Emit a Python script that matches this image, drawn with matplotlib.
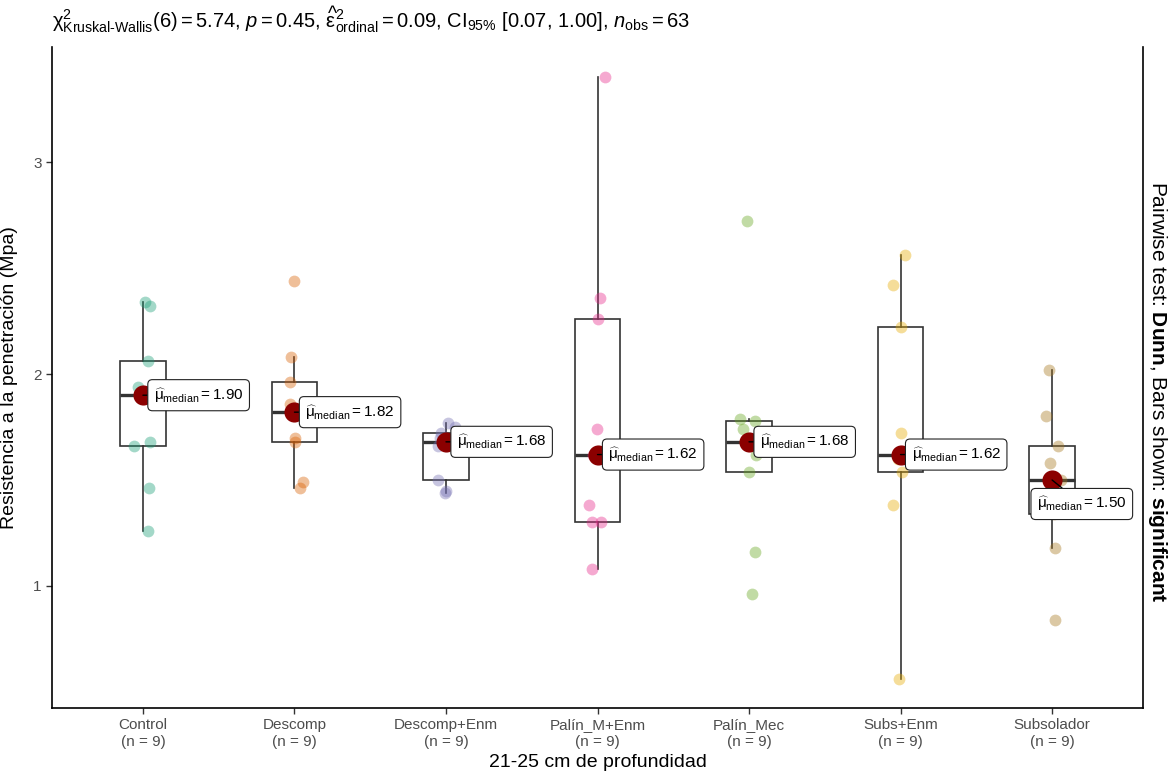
import numpy as np
import matplotlib
matplotlib.use("Agg")
import matplotlib.pyplot as plt

# fonts: ggplot look (Helvetica -> Liberation Sans)
plt.rcParams["font.family"] = ["Liberation Sans", "DejaVu Sans"]
plt.rcParams["mathtext.fontset"] = "custom"
plt.rcParams["mathtext.rm"] = "Liberation Sans"
plt.rcParams["mathtext.it"] = "Liberation Sans:italic"
plt.rcParams["mathtext.bf"] = "Liberation Sans:bold"
plt.rcParams["mathtext.sf"] = "Liberation Sans"

# data (Mpa)
groups = ["Control", "Descomp", "Descomp+Enm", "Palín_M+Enm", "Palín_Mec", "Subs+Enm", "Subsolador"]
control = [2.34, 2.32, 2.06, 1.94, 1.90, 1.68, 1.66, 1.46, 1.26]
descomp = [2.44, 2.08, 1.96, 1.86, 1.82, 1.70, 1.68, 1.49, 1.46]
descomp_enm = [1.77, 1.75, 1.72, 1.70, 1.68, 1.66, 1.50, 1.45, 1.44]
palin_m_enm = [3.40, 2.36, 2.26, 1.74, 1.62, 1.38, 1.30, 1.30, 1.08]
palin_mec = [2.72, 1.79, 1.78, 1.74, 1.68, 1.62, 1.54, 1.16, 0.96]
subs_enm = [2.56, 2.42, 2.22, 1.72, 1.62, 1.60, 1.54, 1.38, 0.56]
subsolador = [2.02, 1.80, 1.66, 1.58, 1.50, 1.38, 1.34, 1.18, 0.84]
values = [control, descomp, descomp_enm, palin_m_enm, palin_mec, subs_enm, subsolador]

title_str = (r"$\mathrm{\chi}^2_{\mathrm{Kruskal‐Wallis}}(6) = 5.74$, $p = 0.45$, "
             r"$\widehat{\mathrm{\varepsilon}}^2_{\mathrm{ordinal}} = 0.09$, "
             r"$\mathrm{CI}_{95\%}$ [0.07, 1.00], $n_{\mathrm{obs}} = 63$")
xlabel = "21-25 cm de profundidad"
ylabel = "Resistencia a la penetración (Mpa)"
caption = r"Pairwise test: $\mathbf{Dunn}$, Bars shown: $\mathbf{significant}$"

palette = ["#1B9E77", "#D95F02", "#7570B3", "#E7298A", "#66A61E", "#E6AB02", "#A6761D"]

W, H = 1173, 775
fig = plt.figure(figsize=(W / 100, H / 100), dpi=100)
ax = fig.add_axes([52 / W, (H - 708) / H, (1143 - 52) / W, (708 - 47) / H])

pos = np.arange(1, len(groups) + 1)

# boxplots (no outlier markers, like ggstatsplot)
ax.boxplot(values, positions=pos, widths=0.3, showfliers=False, whis=1.5,
           showcaps=False, patch_artist=True,
           boxprops=dict(facecolor="none", edgecolor="#333333", linewidth=1.2),
           whiskerprops=dict(color="#333333", linewidth=1.2),
           medianprops=dict(color="#333333", linewidth=2.4), zorder=2)

# jittered raw points
rng = np.random.default_rng(7)
for i, vals in enumerate(values):
    jit = rng.uniform(-0.06, 0.06, len(vals))
    ax.scatter(pos[i] + jit, vals, s=72, color=palette[i], alpha=0.4,
               linewidths=0, zorder=3)

# median dots + labels
for i, vals in enumerate(values):
    med = np.median(vals)
    ax.scatter([pos[i]], [med], s=210, color="#8B0000", linewidths=0, zorder=4)
    if groups[i] == "Subsolador":
        off = (-15, -24)
    else:
        off = (11, 0)
    ax.annotate(r"$\widehat{\mathrm{\mu}}_{\mathrm{median}} = %.2f$" % med,
                xy=(pos[i], med), xytext=off, textcoords="offset pixels",
                ha="left", va="center", fontsize=11, zorder=6,
                bbox=dict(boxstyle="round,pad=0.4,rounding_size=0.3",
                          fc="white", ec="#222222", lw=0.8),
                arrowprops=dict(arrowstyle="-", color="black", lw=1,
                                shrinkA=0, shrinkB=0))

ax.set_xlim(0.4, 7.6)
ax.set_ylim(0.4245, 3.5425)
ax.set_yticks([1, 2, 3])
ax.set_xticks(pos)
ax.set_xticklabels([g + "\n(n = %d)" % len(v) for g, v in zip(groups, values)])
ax.tick_params(axis="both", colors="#333333", labelcolor="#4D4D4D",
               labelsize=11, length=4, width=1)
for s in ["left", "bottom", "right"]:
    ax.spines[s].set_linewidth(1.2)
    ax.spines[s].set_color("black")
ax.spines["top"].set_visible(False)

ax.set_xlabel(xlabel, fontsize=14, labelpad=4)
ax.set_ylabel(ylabel, fontsize=14)
ax.yaxis.set_label_coords((18 - 52) / (1143 - 52), 0.5)

fig.text(52 / W, 1 - 20 / H, title_str, ha="left", va="center", fontsize=14.5)
fig.text(1157 / W, (H - 392) / H, caption, rotation=270, ha="center", va="center",
         fontsize=15)

fig.savefig("out.png", dpi=100)
